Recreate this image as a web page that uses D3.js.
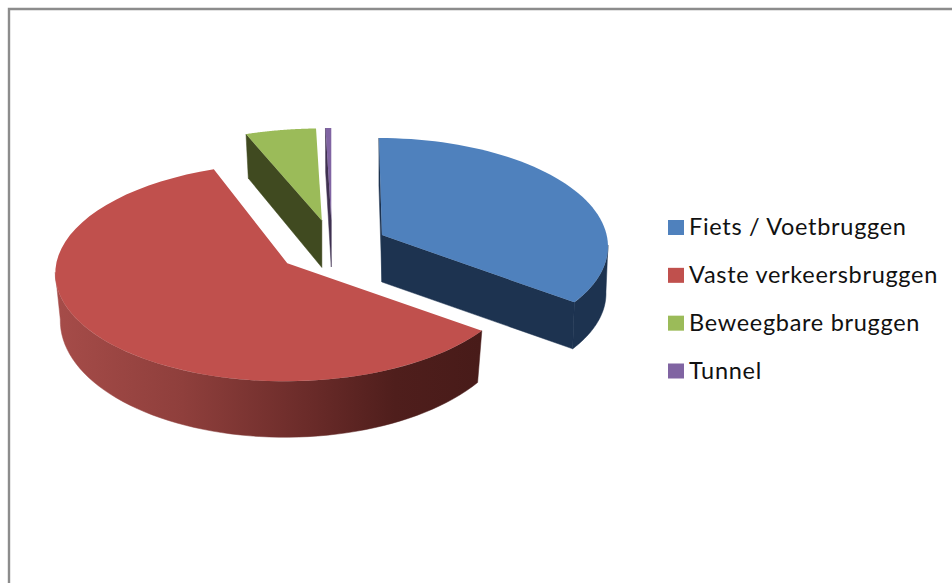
<!DOCTYPE html>
<html>
<head>
<meta charset="utf-8">
<script src="https://cdnjs.cloudflare.com/ajax/libs/d3/7.8.5/d3.min.js"></script>
<style>
  html, body { margin: 0; padding: 0; background: #fff; }
  svg { display: block; }
  text { font-family: Lato, "Open Sans", sans-serif; }
</style>
</head>
<body>
<svg id="chart" width="952" height="583"></svg>
<script>
// Share of structures per type, in percent
const categories = ["Fiets / Voetbruggen", "Vaste verkeersbruggen", "Beweegbare bruggen", "Tunnel"];
const shares = [34.0, 60.7, 4.9, 0.4];

const topColors = ["#4f81bd", "#c0504d", "#9bbb59", "#8064a2"];
const wallColors = ["#1d3350", "#5a2220", "#404a20", "#3f3151"];

const svg = d3.select("#chart");
const color = d3.scaleOrdinal(categories, topColors);
const wall = d3.scaleOrdinal(categories, wallColors);

// Frame of the chart area: open on the right and at the bottom
svg.append("path")
  .attr("d", d3.line()([[952, 9], [9, 9], [9, 583]]))
  .attr("fill", "none").attr("stroke", "#8c8c8c").attr("stroke-width", 2.4);

// Pie geometry: pie centre, explode distance and tilted ellipse radii
const centre = { x: 332, y: 249 };
const explode = { x: 57, back: 29, front: 23 };
const perspectiveDrop = [10, 9, 10, 10];  // ellipse centre sits below the tip of a slice
const lean = [-3, 2.5, 0, 0];             // convergence of the slice sides towards the back
const depth = 47;                         // height of the pie
const ellipse = {
  top:    { rx: [226, 232, 232, 232], ry: [107, 109, 102, 102] },
  bottom: { rx: [224, 227, 225, 225], ry: [106, 118, 105, 105] }
};

const pie = d3.pie().sort(null).value(d => d.share);
const slices = pie(categories.map((name, i) => ({ name, share: shares[i] })));

const tipOf = d => {
  const mid = (d.startAngle + d.endAngle) / 2;
  const c = Math.cos(mid);
  return {
    x: centre.x + explode.x * Math.sin(mid),
    y: centre.y - (c > 0 ? explode.back : explode.front) * c
  };
};

// Point on the rim of slice i at angle a, on the upper or lower face
const rimPoint = (d, i, a, face) => {
  const tip = tipOf(d);
  const e = ellipse[face];
  const y0 = tip.y + perspectiveDrop[i] + (face === "bottom" ? depth : 0);
  return [tip.x + e.rx[i] * Math.sin(a) + lean[i] * Math.cos(a), y0 - e.ry[i] * Math.cos(a)];
};
const tipPoint = (d, face) => {
  const tip = tipOf(d);
  return [tip.x, tip.y + (face === "bottom" ? depth : 0)];
};
const rimArc = (d, i, a0, a1, face) =>
  d3.range(0, 61).map(k => rimPoint(d, i, a0 + (a1 - a0) * k / 60, face));

const closed = d3.line().curve(d3.curveLinearClosed);

// Horizontal shading on the long outer wall of the largest slice
const defs = svg.append("defs");
const grad = defs.append("linearGradient").attr("id", "wallShade")
  .attr("gradientUnits", "userSpaceOnUse")
  .attr("x1", 55).attr("x2", 480).attr("y1", 0).attr("y2", 0);
[[0, "#a64c49"], [0.3, "#8f3f3c"], [0.6, "#6a2b29"], [0.8, "#4f1e1c"], [1, "#481b19"]]
  .forEach(([o, c]) => grad.append("stop").attr("offset", o).attr("stop-color", c));

const HALF = Math.PI / 2;
const g = svg.append("g");

slices.forEach((d, i) => {
  const name = d.data.name;

  // Outer wall on the front half of the ellipse
  const a0 = Math.max(d.startAngle, HALF);
  const a1 = Math.min(d.endAngle, 3 * HALF);
  if (a1 > a0) {
    const pts = rimArc(d, i, a0, a1, "top").concat(rimArc(d, i, a1, a0, "bottom"));
    const fill = i === 1 ? "url(#wallShade)" : wall(name);
    g.append("path").attr("d", closed(pts))
      .attr("fill", fill).attr("stroke", fill).attr("stroke-width", 0.5);
  }

  // Cut faces that look at the viewer: both ends of the first slice, the start of the back ones
  const cuts = i === 0 ? [d.startAngle, d.endAngle] : (i > 1 ? [d.startAngle] : []);
  cuts.forEach(cut => {
    g.append("path").attr("d", closed([
      tipPoint(d, "top"), rimPoint(d, i, cut, "top"),
      rimPoint(d, i, cut, "bottom"), tipPoint(d, "bottom")
    ])).attr("fill", wall(name)).attr("stroke", wall(name)).attr("stroke-width", 0.5);
  });

  // Upper face
  g.append("path")
    .attr("d", closed([tipPoint(d, "top")].concat(rimArc(d, i, d.startAngle, d.endAngle, "top"))))
    .attr("fill", color(name));
});

// Legend
const rowY = d3.scalePoint().domain(categories).range([227.5, 371]);
const legend = svg.append("g").selectAll("g").data(categories).join("g")
  .attr("transform", d => `translate(668,${rowY(d)})`);
legend.append("rect").attr("y", -7.5).attr("width", 16).attr("height", 15).attr("fill", d => color(d));
legend.append("text").attr("x", 21).attr("y", 7.5)
  .attr("font-size", 23.5).attr("letter-spacing", 0.7).attr("fill", "#111").text(d => d);
</script>
</body>
</html>
